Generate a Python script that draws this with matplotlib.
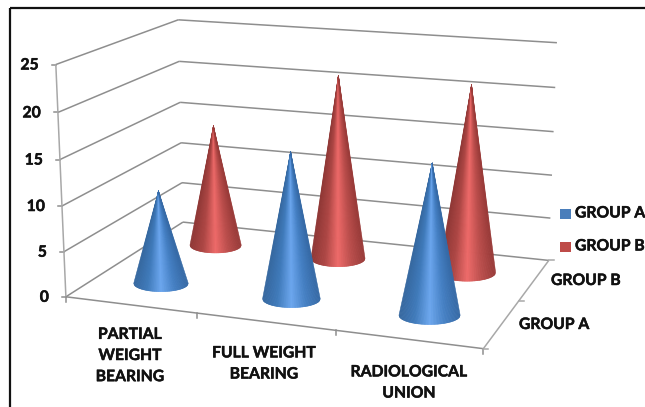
import numpy as np
import matplotlib
matplotlib.use('Agg')
import matplotlib.pyplot as plt
import matplotlib.patheffects as pe
from matplotlib.collections import PolyCollection
from matplotlib.colors import LinearSegmentedColormap
from matplotlib.patches import Rectangle

# Chart values
categories = ['PARTIAL\nWEIGHT\nBEARING', 'FULL WEIGHT\nBEARING', 'RADIOLOGICAL\nUNION']
series_names = ['GROUP A', 'GROUP B']
group_a = [10.4, 16, 16.1]
group_b = [14.3, 21.2, 21.2]
y_ticks = [0, 5, 10, 15, 20, 25]

plt.rcParams['font.family'] = ['Lato', 'DejaVu Sans']

# Axes corners: (category, series, value) -> (x px, y px)
calibration = [
    ((0, 0, 0), (66, 297)), ((0, 0, 25), (56, 64)),
    ((0, 2, 0), (183, 222)), ((0, 2, 25), (178, 20)),
    ((3, 2, 0), (549, 260)), ((3, 2, 25), (557, 43)),
    ((3, 0, 0), (483, 349)), ((0, 0, 10), (62, 206)),
    ((0, 2, 10), (181, 143)), ((3, 2, 10), (552, 175)),
]

# bold text in the reference is heavier than Lato Bold
text_style = dict(fontsize=11.3, fontweight='bold', color='#111111',
                  path_effects=[pe.withStroke(linewidth=0.35, foreground='#111111')])


def fit_camera(points):
    # least squares projective camera, world -> image
    rows = []
    for (u, v, z), (x, y) in points:
        w = [u, v, z, 1]
        rows.append(w + [0, 0, 0, 0] + [-x * c for c in w])
        rows.append([0, 0, 0, 0] + w + [-y * c for c in w])
    return np.linalg.svd(np.array(rows, dtype=float))[2][-1].reshape(3, 4)


camera = fit_camera(calibration)


def project(u, v, z):
    p = camera @ np.array([u, v, z, 1.0])
    return p[0] / p[2], p[1] / p[2]


def draw_line(ax, a, b, color='#8e8e8e', lw=1.1):
    pa, pb = project(*a), project(*b)
    ax.plot([pa[0], pb[0]], [pa[1], pb[1]], color=color, lw=lw, zorder=1,
            solid_capstyle='butt')


def draw_cone(ax, u, v, value, cmap, zorder):
    cx, cy = project(u, v, 0)
    tip = project(u, v, value)
    rx = abs(project(u + 0.215, v, 0)[0] - project(u - 0.215, v, 0)[0]) / 2
    ry = rx * 0.3
    t = np.linspace(-1, 1, 81)
    bx = cx + rx * t
    by = cy + ry * np.sqrt(1 - t ** 2)
    polys = []
    for i in range(len(t) - 1):
        polys.append([(bx[i], by[i]), (bx[i + 1], by[i + 1]), tip])
    shade = (t[:-1] + 1) / 2
    colors = cmap(shade)
    ax.add_collection(PolyCollection(polys, facecolors=colors, edgecolors=colors,
                                     linewidths=0.4, zorder=zorder))


blue_map = LinearSegmentedColormap.from_list(
    'blue', ['#35679f', '#3f7aba', '#6ba6ee', '#4580c4', '#3569a5'])
red_map = LinearSegmentedColormap.from_list(
    'red', ['#8f3735', '#ad4644', '#ee6a69', '#bb4e4c', '#983a38'])

fig = plt.figure(figsize=(6.45, 4.07), dpi=100)
ax = fig.add_axes([0, 0, 1, 1])
ax.set_xlim(0, 645)
ax.set_ylim(407, 0)
ax.axis('off')

# outer frame runs off the right and bottom of the picture
ax.add_patch(Rectangle((10, 8), 700, 450, fill=False, edgecolor='#111111', lw=1.6, zorder=5))

# walls
for tick in y_ticks:
    draw_line(ax, (0, 0, tick), (0, 2, tick))
    draw_line(ax, (0, 2, tick), (3, 2, tick))
    x, y = project(0, 0, tick)
    ax.plot([x - 4, x], [y, y], color='#8e8e8e', lw=1.1, zorder=1)
    ax.text(x - 17, y + 1, str(tick), ha='right', va='center', **text_style)
draw_line(ax, (0, 0, 0), (0, 0, 25), color='#a8a8a8')

# floor edges and ticks
draw_line(ax, (0, 0, 0), (3, 0, 0))
draw_line(ax, (3, 0, 0), (3, 2, 0), color='#a8a8a8')
for i in range(4):
    x, y = project(i, 0, 0)
    ax.plot([x, x], [y, y + 5], color='#8e8e8e', lw=1.1, zorder=1)
for j in range(3):
    x, y = project(3, j, 0)
    ax.plot([x, x + 5], [y, y], color='#a8a8a8', lw=1.1, zorder=1)

# cones, back row first
for i, value in enumerate(group_b):
    draw_cone(ax, i + 0.5, 1.5, value, red_map, 2 + i)
for i, value in enumerate(group_a):
    draw_cone(ax, i + 0.5, 0.5, value, blue_map, 6 + i)

# category labels
label_pos = [(130, 356), (264, 364), (409, 383)]
for name, (x, y) in zip(categories, label_pos):
    ax.text(x, y, name, ha='center', va='center', linespacing=1.65,
            multialignment='center', **text_style)

# depth axis labels
ax.text(551, 281, series_names[1], ha='left', va='center', **text_style)
ax.text(519, 325, series_names[0], ha='left', va='center', **text_style)

# legend
for name, color, y in zip(series_names, ['#4a7ebb', '#be4b48'], [213.5, 246.5]):
    ax.add_patch(Rectangle((560, y - 5), 11, 10, facecolor=color, edgecolor='none', zorder=4))
    ax.text(575, y, name, ha='left', va='center', zorder=4, **text_style)

fig.savefig('out.png', dpi=100)
